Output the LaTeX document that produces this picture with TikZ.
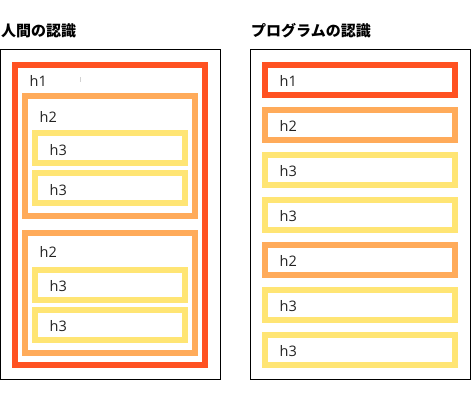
\documentclass[tikz,border=0pt]{standalone}
\usepackage{fontspec}
\setmainfont{Open Sans}
\newfontfamily\cjk{Noto Sans CJK JP}
\definecolor{hred}{HTML}{FF5121}
\definecolor{horange}{HTML}{FFAB5A}
\definecolor{hyellow}{HTML}{FFE574}
\definecolor{txt}{HTML}{222222}
\tikzset{
  frame/.style={draw=black, line width=1pt, rectangle, inner sep=0pt},
  hbox/.style={rectangle, inner sep=0pt, line width=6pt, minimum width=#1},
  hone/.style={hbox=190pt, draw=hred},
  htwo/.style={hbox=170pt, draw=horange, minimum height=120pt},
  hthree/.style={hbox=150pt, draw=hyellow, minimum height=30pt},
  rbox/.style={hbox=190pt, minimum height=30pt},
  lbl/.style={anchor=base west, inner sep=0pt, font=\fontsize{14.5}{15}\selectfont, text=txt},
  title/.style={anchor=base west, inner sep=0pt, font=\cjk\bfseries\fontsize{15}{16}\selectfont, text=black}
}
\begin{document}
\begin{tikzpicture}[x=1pt,y=-1pt]
\useasboundingbox (0,0) rectangle (471,400);
% titles
\node[title] (tL) at (1,36) {人間の認識};
\node[title] (tR) at (251,36) {プログラムの認識};
% left frame
\node[frame, minimum width=220pt, minimum height=329.5pt] (fL) at (110.5,214.25) {};
\node[hone, minimum height=300pt] (L1) at (110,215) {};
\node[htwo] (L2a) at (110,156) {};
\node[hthree] (L3a) at (110,148) {};
\node[hthree] (L3b) at (110,188) {};
\node[htwo] (L2b) at (110,293) {};
\node[hthree] (L3c) at (110,285) {};
\node[hthree] (L3d) at (110,325) {};
\node[lbl] (tL1) at (29.5,86) {h1};
\draw[gray!35, line width=0.8pt] (80.5,77) coordinate (m1) -- (80.5,82) coordinate (m2);
\node[lbl] (tL2a) at (39.5,122) {h2};
\node[lbl] (tL3a) at (49.5,155.5) {h3};
\node[lbl] (tL3b) at (49.5,195.5) {h3};
\node[lbl] (tL2b) at (39.5,257) {h2};
\node[lbl] (tL3c) at (49.5,291) {h3};
\node[lbl] (tL3d) at (49.5,331.5) {h3};
% right frame
\node[frame, minimum width=219.5pt, minimum height=329.5pt] (fR) at (360.25,214.25) {};
\node[rbox, draw=hred] (R1) at (360,80) {};
\node[rbox, draw=horange] (R2) at (360,125) {};
\node[rbox, draw=hyellow] (R3) at (360,170) {};
\node[rbox, draw=hyellow] (R4) at (360,215) {};
\node[rbox, draw=horange] (R5) at (360,260) {};
\node[rbox, draw=hyellow] (R6) at (360,305) {};
\node[rbox, draw=hyellow] (R7) at (360,350) {};
\node[lbl] (tR1) at (279.5,86.5) {h1};
\node[lbl] (tR2) at (279.5,131.5) {h2};
\node[lbl] (tR3) at (279.5,176.5) {h3};
\node[lbl] (tR4) at (279.5,221.5) {h3};
\node[lbl] (tR5) at (279.5,266.5) {h2};
\node[lbl] (tR6) at (279.5,311.5) {h3};
\node[lbl] (tR7) at (279.5,356.5) {h3};
\end{tikzpicture}
\end{document}
